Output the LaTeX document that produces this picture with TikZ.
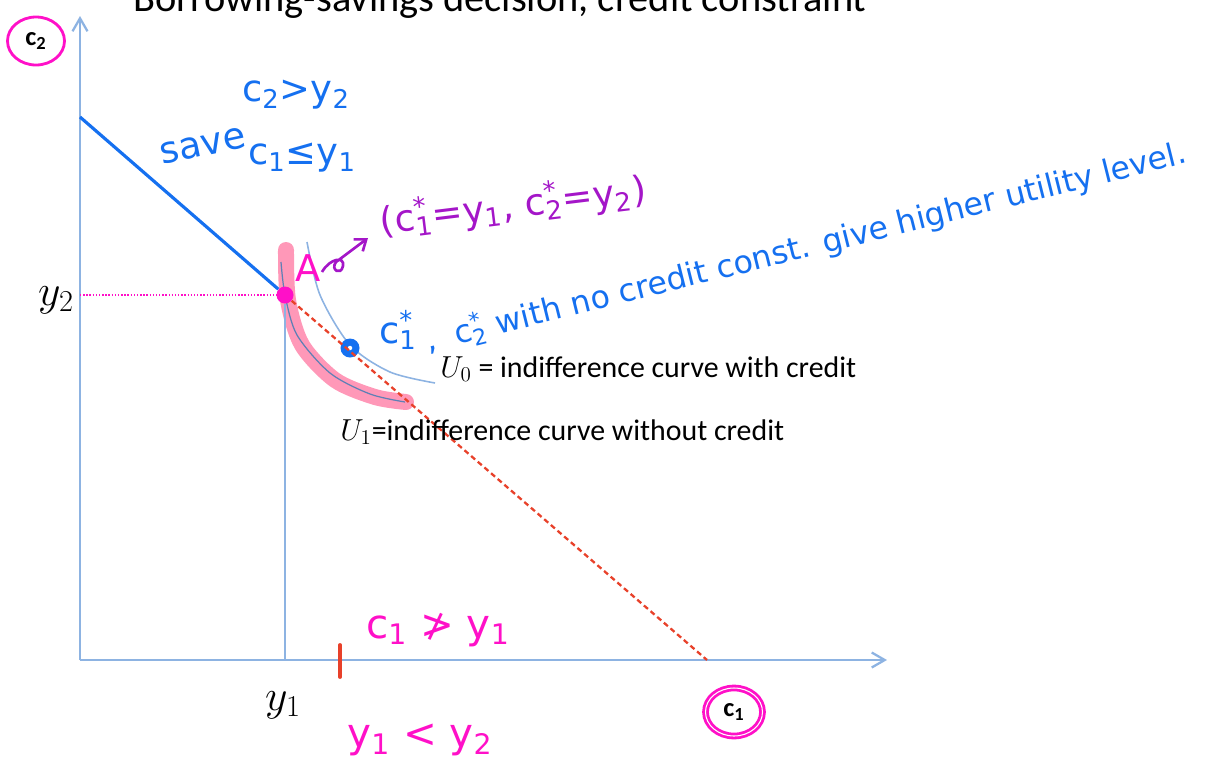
\documentclass[tikz,border=0pt]{standalone}
\usepackage{fontspec}
\setmainfont{Carlito}
\newfontfamily\handfont{DejaVu Sans}
\usetikzlibrary{arrows.meta,positioning,calc,shapes.geometric}
\definecolor{axisblue}{HTML}{8DB3E2}
\definecolor{penblue}{HTML}{1570F0}
\definecolor{penpink}{HTML}{FF10C8}
\definecolor{penpurple}{HTML}{A416C8}
\definecolor{penred}{HTML}{E8412A}
\definecolor{hilite}{HTML}{FF86AC}
\definecolor{curveblue}{HTML}{5F80B5}
\newcommand\cstar[1]{c\rlap{\textsuperscript{*}}\textsubscript{#1}}
\tikzset{
  axis/.style={axisblue,line width=1.3pt,-{Straight Barb[length=2.6mm,width=3mm]}},
  hand/.style={font=\handfont\fontsize{21}{24}\selectfont,inner sep=0pt},
  lbl/.style={font=\fontsize{17}{19}\selectfont,anchor=base west,inner sep=0pt},
  ring/.style={draw=penpink,line width=1.6pt,ellipse,minimum width=11.4mm,minimum height=9.6mm},
}

\begin{document}
\begin{tikzpicture}[x=0.2mm,y=-0.2mm]
  \useasboundingbox (0,0) rectangle (1214,760);
  \coordinate (O) at (80,660);
  \coordinate (Ytop) at (80,16);
  \coordinate (Xend) at (887,660);
  \coordinate (B) at (80,117);
  \coordinate (Xb) at (707,660);
  \coordinate (Ay) at (80,295);
  \coordinate (Ax) at (285,660);

  \node[font=\fontsize{23}{26}\selectfont,anchor=base] (title) at (500,11)
    {Borrowing-savings decision, credit constraint};

  \draw[axis] (O) -- (Ytop);
  \draw[axis] (O) -- (Xend);

  % indifference curves
  \draw[axisblue,line width=0.9pt] plot[smooth] coordinates
    {(307,242) (320,295) (350,345) (390,372) (435,383)};
  \draw[hilite,opacity=0.85,line width=3.2mm,line cap=round] plot[smooth] coordinates
    {(286,250) (288,300) (302,345) (335,380) (375,397) (406,402)};
  \draw[curveblue,line width=0.7pt] plot[smooth] coordinates
    {(281,262) (285,295) (297,335) (330,373) (370,394) (405,402)};

  \node[circle,fill=penpink,inner sep=0pt,minimum size=3.4mm] (A) at (285,295) {};
  \node[circle,fill=penblue,inner sep=0pt,minimum size=3.8mm] (C) at (350,348) {};
  \fill[white] (C) circle (0.45mm);

  \draw[penpink,densely dotted,line width=0.8pt] (Ay) -- (A);
  \draw[axisblue,line width=0.9pt] (A) -- (Ax);
  \draw[penblue,line width=1.8pt] (B) -- (A);
  \draw[penred,densely dashed,line width=1.3pt] (A) -- (Xb);
  \draw[penred,line width=2.2pt,line cap=round] (340,645) -- (340,677);

  \node[font=\fontsize{23}{26}\selectfont] (y2) at (56,300) {$y_2$};
  \node[font=\fontsize{23}{26}\selectfont] (y1) at (283,705) {$y_1$};
  \node[ring] (c2ring) at (36,41) {};
  \node[font=\fontsize{15}{17}\selectfont\bfseries] (c2) at (c2ring) {c\textsubscript{2}};
  \node[ring,double=white,double distance=0.6pt] (c1ring) at (734,712) {};
  \node[font=\fontsize{15}{17}\selectfont\bfseries] (c1) at (c1ring) {c\textsubscript{1}};

  \node[lbl] (u0) at (440,377) {$U_0$ = indifference curve with credit};
  \node[lbl] (u1) at (340,440) {$U_1$=indifference curve without credit};

  % pen notes
  \node[hand,penblue] (cy2) at (296,95) {c\textsubscript{2}>y\textsubscript{2}};
  \node[hand,penblue,rotate=12] (save) at (203,146) {save};
  \node[hand,penblue] (cy1) at (302,158) {c\textsubscript{1}≤y\textsubscript{1}};
  \node[hand,penpink] (Alab) at (308,268) {A};
  \coordinate (arrA) at (322,272);
  \coordinate (arrB) at (368,238);
  \draw[penpurple,line width=1.5pt,-{Straight Barb[length=2mm,width=3mm]}]
    (arrA) .. controls (330,258) and (345,256) .. (343,266)
    .. controls (341,276) and (330,270) .. (336,262) -- (arrB);
  \node[hand,penpurple,rotate=7,anchor=west] (astar) at (380,222)
    {(\cstar{1}=y\textsubscript{1}, \cstar{2}=y\textsubscript{2})};
  \node[hand,penblue] (c1star) at (398,330) {\cstar{1}};
  \node[hand,penblue,rotate=14,anchor=base west,font=\handfont\fontsize{18}{20}\selectfont]
    (note) at (428,352) {,\ \ \cstar{2} with no credit const. give higher utility level.};
  \node[hand,penpink,font=\handfont\fontsize{23}{26}\selectfont] (c1ny1) at (438,630)
    {c\textsubscript{1} ≯ y\textsubscript{1}};
  \node[hand,penpink,font=\handfont\fontsize{23}{26}\selectfont] (y1y2) at (420,740)
    {y\textsubscript{1} < y\textsubscript{2}};
\end{tikzpicture}
\end{document}
